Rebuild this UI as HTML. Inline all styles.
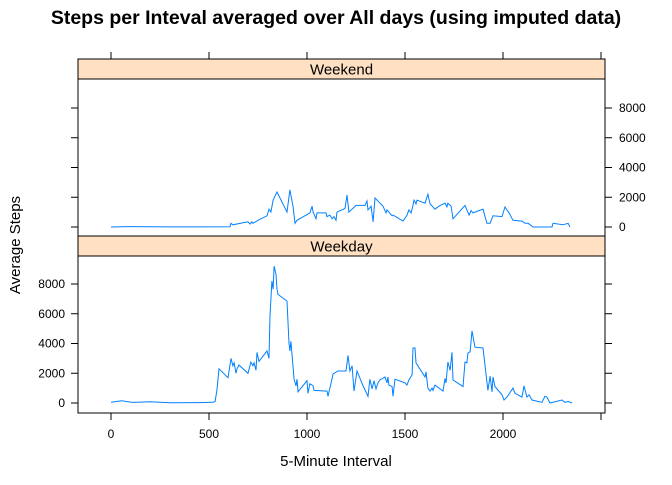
<!DOCTYPE html>
<html><head><meta charset="utf-8"><style>
body{margin:0;background:#fff;}
svg text{font-family:"Liberation Sans",sans-serif;}
</style></head><body>
<svg id="chart" width="672" height="480" viewBox="0 0 672 480" xmlns="http://www.w3.org/2000/svg">
<text x="336" y="24" text-anchor="middle" font-size="19.5" font-weight="bold">Steps per Inteval averaged over All days (using imputed data)</text>
<g id="axes"></g>
<text x="336" y="466" text-anchor="middle" font-size="15">5-Minute Interval</text>
<text x="20" y="245" text-anchor="middle" font-size="15" transform="rotate(-90 20 245)">Average Steps</text>
</svg>
<script>
const xTicks=[0,500,1000,1500,2000,2500];
const yTicks=[0,2000,4000,6000,8000];
const panelNames=["Weekend","Weekday"];
const weekdayX=[0,55,110,199,300,454,520,531,541,551,597,612,622,628,638,643,653,699,714,724,730,740,745,755,796,806,811,821,827,832,842,847,852,898,908,913,918,934,944,949,954,1000,1005,1015,1031,1036,1102,1107,1117,1133,1158,1199,1209,1219,1230,1240,1255,1286,1311,1321,1332,1342,1352,1362,1372,1398,1408,1413,1418,1434,1439,1449,1500,1510,1520,1536,1541,1551,1556,1602,1607,1617,1628,1638,1643,1653,1694,1704,1709,1719,1730,1740,1745,1796,1806,1816,1821,1832,1842,1857,1898,1923,1934,1944,1949,1959,1995,2005,2020,2051,2061,2097,2107,2122,2133,2148,2199,2214,2224,2240,2301,2316,2332,2352];
const weekdayY=[50,150,40,80,20,30,50,100,900,2300,1700,3000,2500,2700,2000,2300,2550,2000,2750,2500,2700,2200,3400,2800,3500,3000,5850,8200,7650,9200,8650,7650,7300,6850,4000,3500,4150,1600,1150,1600,750,1500,650,1300,1150,850,800,450,1000,1950,2150,2150,3200,2150,2500,800,2150,1150,450,1600,950,1500,950,1350,1550,1750,1350,1750,1200,1100,450,1600,1350,1200,1550,1900,3700,3700,2700,1750,2100,1000,800,1000,850,1200,800,1650,1350,2750,2200,3400,1550,1100,2750,2700,3350,3450,4850,3750,3700,850,1800,750,1750,1100,550,200,400,1000,650,400,1150,400,550,200,50,450,400,0,200,50,100,0];
const weekendX=[0,100,199,300,454,607,612,622,699,709,719,724,750,796,806,816,827,847,898,913,929,939,949,1015,1026,1031,1046,1051,1097,1102,1117,1128,1138,1148,1153,1194,1204,1214,1250,1296,1306,1311,1327,1337,1347,1388,1403,1408,1434,1439,1490,1510,1520,1531,1541,1546,1556,1561,1602,1617,1628,1653,1679,1704,1714,1719,1735,1745,1755,1806,1827,1837,1847,1857,1898,1918,1934,1949,1995,2010,2020,2031,2051,2097,2112,2128,2153,2250,2255,2306,2332,2342];
const weekendY=[0,30,20,10,10,20,250,150,350,200,350,250,450,750,1200,1000,1800,2350,1000,2500,1350,250,450,950,1400,1000,550,950,950,700,800,550,700,450,1000,1250,2150,1000,1450,1450,1750,1150,1400,350,1950,1400,950,1150,750,800,400,800,1150,950,1450,1800,1550,1800,1600,2200,1550,1200,1450,1600,1350,1600,1400,550,700,1450,800,1100,950,1000,1200,250,250,750,700,1350,1150,950,450,400,250,250,0,0,250,150,250,0];

const NS="http://www.w3.org/2000/svg";
const g=document.getElementById('axes');
const L=78,R=605;
const xs=v=>111+v*0.196;
const ys=(base)=>v=>base-v*0.014875;
function el(t,a){const e=document.createElementNS(NS,t);for(const k in a)e.setAttribute(k,a[k]);g.appendChild(e);return e;}
const panels=[{name:panelNames[0],stripTop:59,top:79,bottom:236,base:227,xs:weekendX,ys:weekendY,labelsRight:true},
              {name:panelNames[1],stripTop:236,top:256,bottom:413,base:403,xs:weekdayX,ys:weekdayY,labelsRight:false}];
panels.forEach((p,i)=>{
  const s=el('rect',{x:L,y:p.stripTop,width:R-L,height:20,fill:'#ffe0c2',stroke:'#000','stroke-width':1});
  
  
  const st=el('text',{x:(L+R)/2,y:p.stripTop+15.5,'text-anchor':'middle','font-size':15});
  st.textContent=p.name;
  
  
  const b=el('rect',{x:L,y:p.top,width:R-L,height:p.bottom-p.top,fill:'none',stroke:'#000','stroke-width':1});
  
  
  const Y=ys(p.base);
  yTicks.forEach(t=>{
    const y=Y(t);
    el('line',{x1:L-7,x2:L,y1:y,y2:y,stroke:'#000'});
    el('line',{x1:R,x2:R+7,y1:y,y2:y,stroke:'#000'});
    const tx=p.labelsRight?el('text',{x:R+14,y:y+4,'font-size':12}):el('text',{x:L-13,y:y+4,'font-size':12,'text-anchor':'end'});
    tx.textContent=t;
    
    
  });
  const d=p.xs.map((x,j)=>(j?'L':'M')+xs(x).toFixed(1)+','+Y(p.ys[j]).toFixed(1)).join('');
  const path=el('path',{d:d,fill:'none',stroke:'#0080ff','stroke-width':1});
  
  
});
xTicks.forEach(t=>{
  const x=xs(t);
  el('line',{x1:x,x2:x,y1:52,y2:59,stroke:'#000'});
  el('line',{x1:x,x2:x,y1:413,y2:420,stroke:'#000'});
  if(t<2500){
    const tx=el('text',{x:x,y:438,'text-anchor':'middle','font-size':12});
    tx.textContent=t;
    
    
  }
});
</script>
</body></html>
